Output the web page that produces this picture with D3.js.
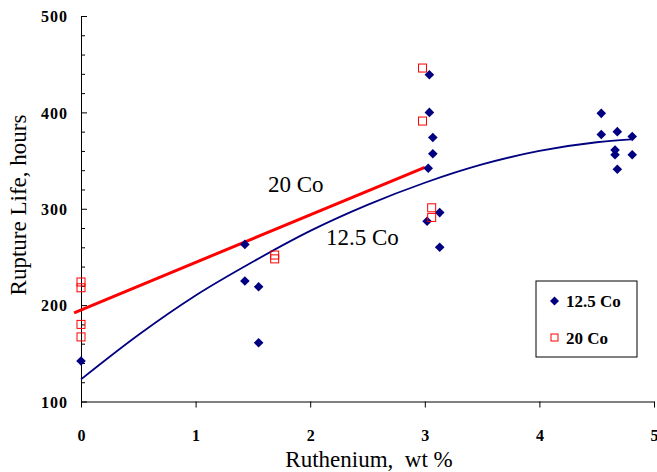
<!DOCTYPE html>
<html>
<head>
<meta charset="utf-8">
<script src="https://cdn.jsdelivr.net/npm/d3@7"></script>
<style>
  html, body { margin: 0; padding: 0; background: #fff; }
  svg { display: block; }
  text { font-family: "Liberation Serif", "Times New Roman", serif; }
</style>
</head>
<body>
<svg id="chart" width="657" height="472"></svg>
<script>
// ---- data ----
const xTicks = [0, 1, 2, 3, 4, 5];
const yTicks = [100, 200, 300, 400, 500];
const yMinorTicks = [120, 140, 160, 180, 220, 240, 260, 280, 320, 340, 360, 380, 420, 440, 460, 480];

// 12.5 Co (navy diamonds)
const co125Ru = [0, 1.43, 1.43, 1.55, 1.55, 3.04, 3.04, 3.07, 3.07, 3.03, 3.13, 3.02, 3.13, 4.54, 4.54, 4.68, 4.81, 4.66, 4.66, 4.81, 4.68];
const co125Life = [142, 263, 225, 219, 161, 439, 400, 374, 357, 342, 296, 287, 260, 399, 377, 380, 375, 361, 356, 356, 341];

// 20 Co (red open squares)
const co20Ru = [0, 0, 0, 0, 1.69, 1.69, 2.98, 2.98, 3.06, 3.06];
const co20Life = [224, 218, 180, 167, 252, 248, 446, 391, 301, 291];

// trend lines
const trend125Ru = [0, 0.5, 1, 1.5, 2, 2.5, 3, 3.5, 4, 4.5, 4.8];
const trend125Life = [123, 169, 210, 245, 277, 304, 327, 346, 360, 369, 372];
const trend20Ru = [-0.06, 3.0];
const trend20Life = [192, 343];

const seriesNames = ["12.5 Co", "20 Co"];
const xTitle = "Ruthenium,\u00A0 wt %";
const yTitle = "Rupture Life, hours";

// ---- drawing ----
const svg = d3.select("#chart");
const x = d3.scaleLinear().domain([0, 5]).range([81, 654]);
const y = d3.scaleLinear().domain([100, 500]).range([401.5, 16]);
const navy = "#000080", red = "#ff0000";

// x axis
const gx = svg.append("g").attr("transform", `translate(0,${y(100)})`)
  .call(d3.axisBottom(x).tickValues(xTicks).tickSize(6).tickSizeOuter(0).tickPadding(22).tickFormat(d3.format("d")));
// y axis
const gy = svg.append("g").attr("transform", `translate(${x(0)},0)`)
  .call(d3.axisLeft(y).tickValues(yTicks).tickSize(-6).tickSizeOuter(0).tickPadding(13).tickFormat(d3.format("d")));
const gym = svg.append("g").attr("transform", `translate(${x(0)},0)`)
  .call(d3.axisLeft(y).tickValues(yMinorTicks).tickSize(-4).tickFormat(""));
gym.select(".domain").remove();

[gx, gy, gym].forEach(g => {
  g.selectAll("path, line").attr("stroke", "#000").attr("stroke-width", 1);
  g.selectAll("text").attr("font-family", "Liberation Serif, serif")
    .attr("font-size", 16).attr("font-weight", "bold").attr("fill", "#000");
});
gy.selectAll("text").attr("dy", "0.36em").attr("letter-spacing", "1px");

// trend lines
svg.append("path")
  .datum(trend125Ru.map((r, i) => [r, trend125Life[i]]))
  .attr("fill", "none").attr("stroke", navy).attr("stroke-width", 1.8)
  .attr("d", d3.line().x(d => x(d[0])).y(d => y(d[1])).curve(d3.curveMonotoneX));
svg.append("path")
  .datum(trend20Ru.map((r, i) => [r, trend20Life[i]]))
  .attr("fill", "none").attr("stroke", red).attr("stroke-width", 3)
  .attr("d", d3.line().x(d => x(d[0])).y(d => y(d[1])));

// markers
const diamond = s => `M0,${-s}L${s},0L0,${s}L${-s},0Z`;
svg.append("g").selectAll("path")
  .data(co125Ru.map((r, i) => [r, co125Life[i]]))
  .join("path")
  .attr("transform", d => `translate(${x(d[0])},${y(d[1])})`)
  .attr("d", diamond(4.8)).attr("fill", navy);

svg.append("g").selectAll("rect")
  .data(co20Ru.map((r, i) => [r, co20Life[i]]))
  .join("rect")
  .attr("x", d => x(d[0]) - 4).attr("y", d => y(d[1]) - 4)
  .attr("width", 8).attr("height", 8)
  .attr("fill", "none").attr("stroke", red).attr("stroke-width", 1);

// inline labels
svg.append("text").attr("x", 268).attr("y", 192).attr("font-size", 23).text(seriesNames[1]);
svg.append("text").attr("x", 326).attr("y", 245).attr("font-size", 23).text(seriesNames[0]);

// axis titles
svg.append("text").attr("x", 369).attr("y", 467).attr("text-anchor", "middle")
  .attr("font-size", 23).text(xTitle);
svg.append("text").attr("transform", "translate(26,205) rotate(-90)").attr("text-anchor", "middle")
  .attr("font-size", 23).text(yTitle);

// legend
const lg = svg.append("g");
lg.append("rect").attr("x", 536).attr("y", 281).attr("width", 101).attr("height", 76)
  .attr("fill", "#fff").attr("stroke", "#000").attr("stroke-width", 1);
lg.append("path").attr("transform", "translate(554.5,301)").attr("d", diamond(4.5)).attr("fill", navy);
lg.append("rect").attr("x", 551).attr("y", 334).attr("width", 7).attr("height", 7)
  .attr("fill", "none").attr("stroke", red).attr("stroke-width", 1);
lg.append("text").attr("x", 566).attr("y", 307).attr("font-size", 17).attr("font-weight", "bold").text(seriesNames[0]);
lg.append("text").attr("x", 566).attr("y", 344).attr("font-size", 17).attr("font-weight", "bold").text(seriesNames[1]);
</script>
</body>
</html>
